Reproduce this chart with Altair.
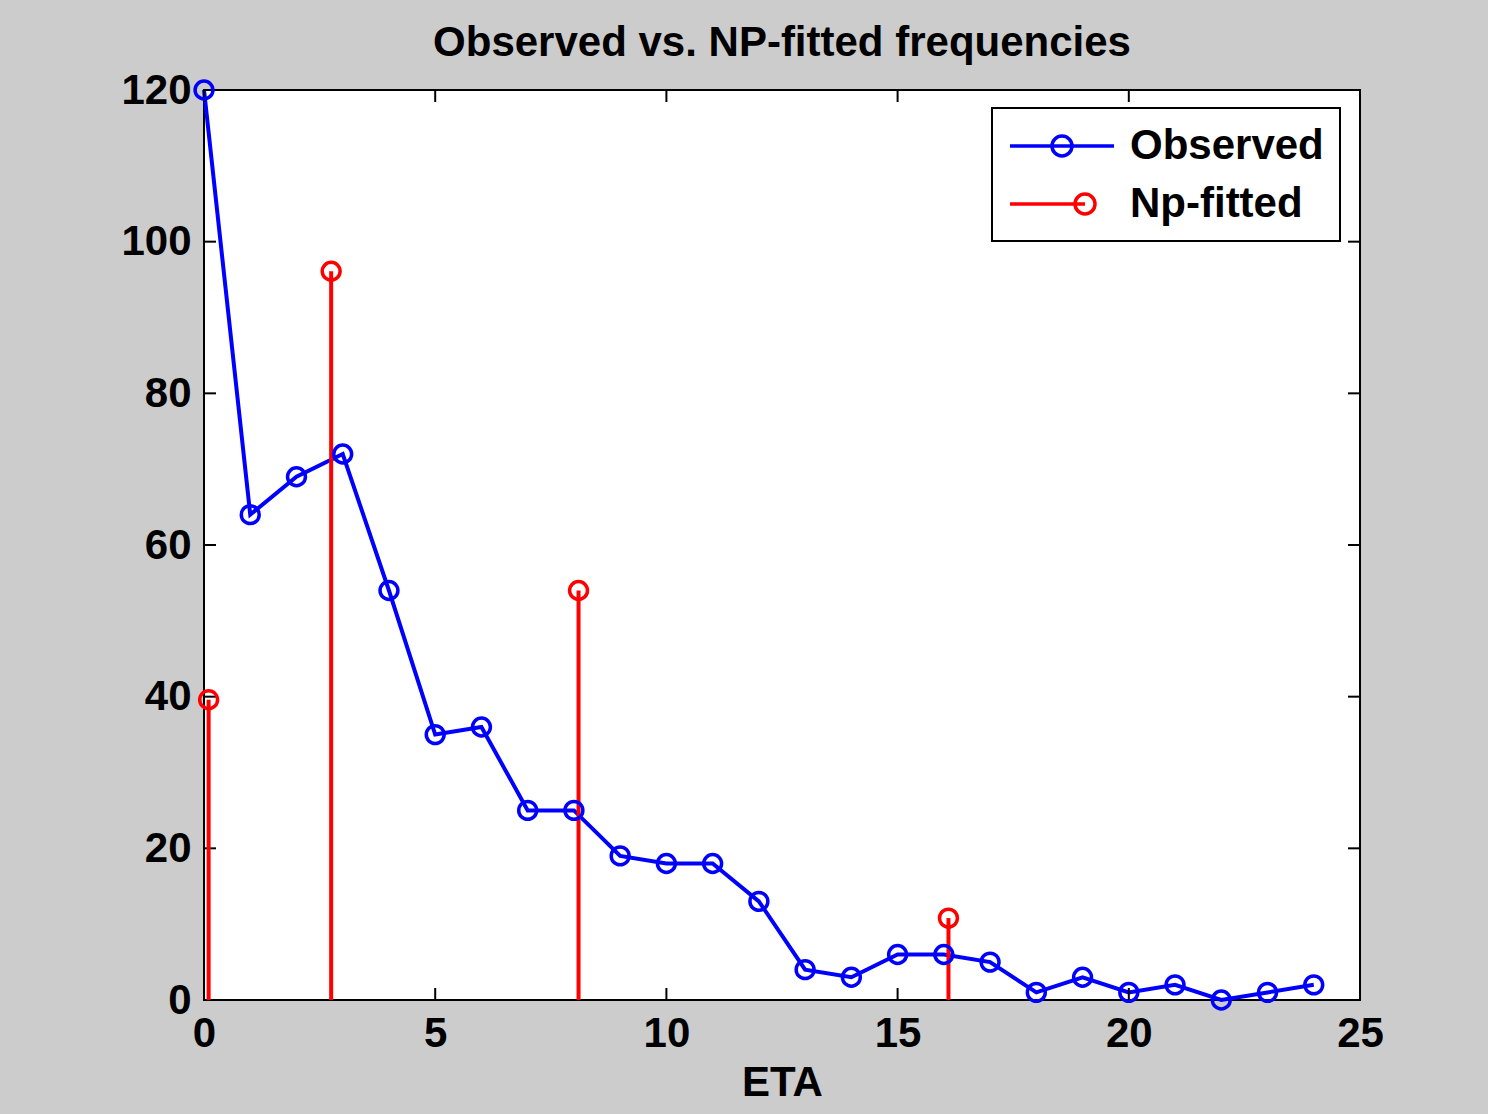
import altair as alt
import pandas as pd

# ---- data ----
obs_x = list(range(25))
obs_y = [120, 64, 69, 72, 54, 35, 36, 25, 25, 19, 18, 18, 13, 4, 3, 6, 6, 5, 1, 3, 1, 2, 0, 1, 2]
fit_x = [0.1, 2.75, 8.1, 16.1]
fit_y = [39.6, 96.1, 54.0, 10.8]
series_names = ["Observed", "Np-fitted"]
x_ticks = [0, 5, 10, 15, 20, 25]
y_ticks = [0, 20, 40, 60, 80, 100, 120]

W, H = 1156, 910
FONT = "Liberation Sans"
FS = 42
BLUE, RED = "#0000ff", "#ff0000"

obs = pd.DataFrame({"x": obs_x, "y": obs_y})
fit = pd.DataFrame({"x": fit_x, "y": fit_y, "y0": [0] * len(fit_x)})
leg = pd.DataFrame({"x": [obs_x[0], fit_x[0]], "y": [obs_y[0], fit_y[0]], "series": series_names})
xt = pd.DataFrame({"v": x_ticks})
yt = pd.DataFrame({"v": y_ticks})

xscale = alt.Scale(domain=[0, 25], nice=False, zero=False)
yscale = alt.Scale(domain=[0, 120], nice=False)

xaxis = alt.Axis(values=x_ticks, title="ETA", grid=False, domain=False, ticks=False,
                 labelFlush=False, labelOverlap=False, labelPadding=13, titlePadding=8)
yaxis = alt.Axis(values=y_ticks, title=None, grid=False, domain=False, ticks=False,
                 labelPadding=13, labelOverlap=False)

base_x = alt.X("x:Q", scale=xscale, axis=xaxis)
base_y = alt.Y("y:Q", scale=yscale, axis=yaxis)

obs_line = alt.Chart(obs).mark_line(color=BLUE, strokeWidth=4).encode(x=base_x, y=base_y)
obs_pts = alt.Chart(obs).mark_point(shape="circle", color=BLUE, size=320, strokeWidth=3.5,
                                    filled=False, opacity=1).encode(x="x:Q", y="y:Q")
fit_rules = alt.Chart(fit).mark_rule(color=RED, strokeWidth=4).encode(x="x:Q", y="y0:Q", y2="y:Q")
fit_pts = alt.Chart(fit).mark_point(shape="circle", color=RED, size=320, strokeWidth=3.5,
                                    filled=False, opacity=1).encode(x="x:Q", y="y:Q")

path_obs = ("M-1,0H4.2M2.1,0A0.5,0.5,0,1,1,1.1,0A0.5,0.5,0,1,1,2.1,0M1.1,0H2.1")
path_fit = ("M-1,0H2.75M3.25,0A0.5,0.5,0,1,1,2.25,0A0.5,0.5,0,1,1,3.25,0")

legend_layer = alt.Chart(leg).mark_point(opacity=0, filled=False, strokeWidth=3.5).encode(
    x="x:Q", y="y:Q",
    color=alt.Color("series:N", scale=alt.Scale(domain=series_names, range=[BLUE, RED]),
                    legend=alt.Legend(title=None, orient="none", legendX=788, legendY=18,
                                      fillColor="white", strokeColor="black", padding=16,
                                      labelFont=FONT, labelFontSize=FS, labelFontWeight="bold",
                                      labelColor="black", symbolSize=1600, symbolStrokeWidth=3.5,
                                      symbolOpacity=1, labelOffset=78, rowPadding=15,
                                      labelLimit=400)),
    shape=alt.Shape("series:N", scale=alt.Scale(domain=series_names, range=[path_obs, path_fit]),
                    legend=None),
)

tick_style = dict(color="black", strokeWidth=2)
tb = alt.Chart(xt).mark_rule(**tick_style).encode(x="v:Q", y=alt.value(H), y2=alt.value(H - 12))
tt = alt.Chart(xt).mark_rule(**tick_style).encode(x="v:Q", y=alt.value(0), y2=alt.value(12))
tl = alt.Chart(yt).mark_rule(**tick_style).encode(y="v:Q", x=alt.value(0), x2=alt.value(12))
tr = alt.Chart(yt).mark_rule(**tick_style).encode(y="v:Q", x=alt.value(W), x2=alt.value(W - 12))

chart = alt.layer(obs_line, tb, tt, tl, tr, fit_rules, obs_pts, fit_pts, legend_layer).properties(
    width=W, height=H,
    title=alt.TitleParams("Observed vs. NP-fitted frequencies", font=FONT, fontSize=FS,
                          fontWeight="bold", color="black", anchor="middle", offset=4),
    autosize=alt.AutoSizeParams(type="none"),
    padding={"left": 204, "top": 90, "right": 128, "bottom": 114},
    background="#cccccc",
).configure_view(
    fill="white", stroke="black", strokeWidth=2
).configure_axis(
    labelFont=FONT, labelFontSize=FS, labelFontWeight="bold", labelColor="black",
    titleFont=FONT, titleFontSize=FS, titleFontWeight="bold", titleColor="black",
).configure_legend(strokeWidth=2)

chart.save("out.html", embed_options={"renderer": "svg", "actions": False})
